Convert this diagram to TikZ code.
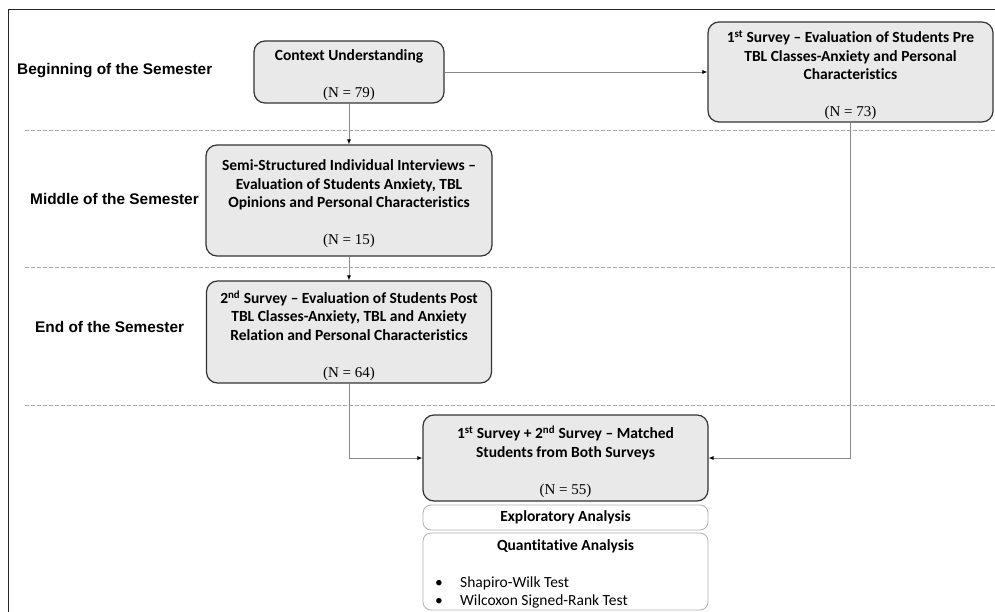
\documentclass[tikz,border=0pt]{standalone}
\usepackage{fontspec}
\setmainfont{Liberation Serif}
\newfontfamily\calb{Carlito}[Ligatures=NoCommon]
\newfontfamily\arl{Liberation Sans}
\usetikzlibrary{arrows.meta}
\definecolor{boxfill}{HTML}{E9E9E9}
\definecolor{boxline}{HTML}{333333}
\definecolor{conn}{HTML}{8A8A8A}
\definecolor{dash}{HTML}{A8A8A8}
\definecolor{lightline}{HTML}{B0B0B0}
\newcommand{\nn}[1]{{\rmfamily\mdseries\fontsize{15pt}{18.5pt}\selectfont #1}}
\begin{document}
\begin{tikzpicture}[x=1pt,y=-1pt,
  mainbox/.style={draw=boxline, line width=1.2pt, fill=boxfill, rounded corners=11pt, inner sep=0pt},
  boxtext/.style={inner sep=0pt, align=center, font=\calb\bfseries\fontsize{15.5pt}{18.5pt}\selectfont},
  subbox/.style={draw=lightline, line width=0.8pt, fill=white, rounded corners=8pt,
    inner sep=0pt, align=center, font=\calb\bfseries\fontsize{15.5pt}{18.5pt}\selectfont},
  phase/.style={anchor=west, inner sep=0pt, font=\arl\bfseries\fontsize{15.4pt}{18pt}\selectfont},
  conline/.style={draw=conn, line width=0.8pt, -{Latex[length=5pt,width=4pt,color=black]}},
  sep/.style={draw=dash, line width=1pt, dash pattern=on 4pt off 2pt}]
\useasboundingbox (0,0) rectangle (995,612);
% frame
\draw[line width=1pt, black!85] (8,612) -- (8,10) -- (995,10);
% separators
\draw[sep] (25,131) -- (995,131);
\draw[sep] (25,267) -- (995,267);
\draw[sep] (25,405) -- (995,405);
% phase labels
\node[phase] (p1) at (17,71) {Beginning of the Semester};
\node[phase] (p2) at (30,199) {Middle of the Semester};
\node[phase] (p3) at (35,327) {End of the Semester};
% boxes
\node[mainbox, minimum width=190pt, minimum height=62pt] (cu) at (349,72) {};
\node[boxtext] (cut) at ([yshift=-3.5pt]cu.center)
  {Context Understanding\\[18.5pt]\nn{(N = 79)}};
\node[mainbox, minimum width=285pt, minimum height=100pt] (s1) at (850.5,72) {};
\node[boxtext] (s1t) at ([yshift=-3.5pt]s1.center)
  {1\textsuperscript{st} Survey – Evaluation of Students Pre\\TBL Classes-Anxiety and Personal\\Characteristics\\[18.5pt]\nn{(N = 73)}};
\node[mainbox, minimum width=286pt, minimum height=111pt] (ss) at (349,200.5) {};
\node[boxtext] (sst) at ([yshift=-3.5pt]ss.center)
  {Semi-Structured Individual Interviews –\\Evaluation of Students Anxiety, TBL\\Opinions and Personal Characteristics\\[18.5pt]\nn{(N = 15)}};
\node[mainbox, minimum width=285pt, minimum height=102pt] (s2) at (349,332) {};
\node[boxtext] (s2t) at ([yshift=-3.5pt]s2.center)
  {2\textsuperscript{nd} Survey – Evaluation of Students Post\\TBL Classes-Anxiety, TBL and Anxiety\\Relation and Personal Characteristics\\[18.5pt]\nn{(N = 64)}};
\node[mainbox, minimum width=285pt, minimum height=86pt] (m) at (565.5,458) {};
\node[boxtext] (mt) at ([yshift=-3.5pt]m.center)
  {1\textsuperscript{st} Survey + 2\textsuperscript{nd} Survey – Matched\\Students from Both Surveys\\[18.5pt]\nn{(N = 55)}};
\node[subbox, minimum width=285pt, minimum height=25pt] (ea) at (565.5,517.5)
  {Exploratory Analysis};
\node[subbox, minimum width=285pt, minimum height=77pt] (qa) at (565.5,571.5) {};
\node[boxtext] (qat) at (565.5,546.5) {Quantitative Analysis};
\node[anchor=west, inner sep=0pt, align=left, font=\calb\fontsize{15.5pt}{18pt}\selectfont] (qai) at (435,592)
  {\makebox[25pt][l]{•}Shapiro-Wilk Test\\\makebox[25pt][l]{•}Wilcoxon Signed-Rank Test};
% connectors
\draw[conline] (cu.east) -- (s1.west);
\draw[conline] (cu.south) -- (ss.north);
\draw[conline] (ss.south) -- (s2.north);
\draw[conline] (s2.south) |- (m.west);
\draw[conline] (s1.south) |- (m.east);
\end{tikzpicture}
\end{document}
